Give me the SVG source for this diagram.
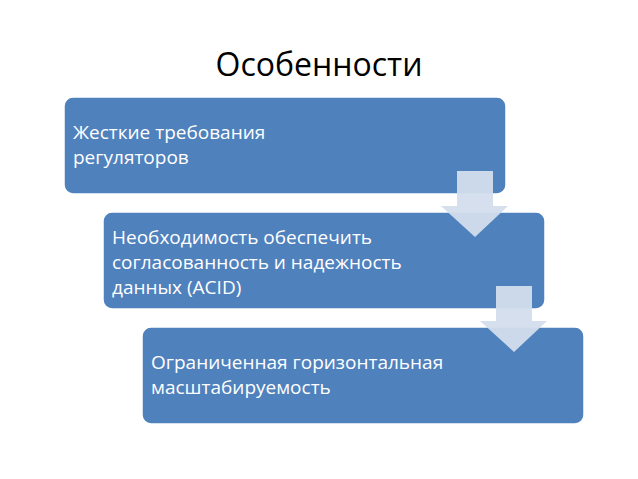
<svg xmlns="http://www.w3.org/2000/svg" width="638" height="479" viewBox="0 0 638 479">
<style>
.box{fill:#4F81BD;stroke:#fff;stroke-width:1.5}
.t{font-family:"Open Sans","Liberation Sans",sans-serif;font-size:19px;fill:#fff}
.arr{fill:#D3DDEC;fill-opacity:0.95}
</style>
<rect width="638" height="479" fill="#fff"/>
<text x="319" y="76" text-anchor="middle" font-family="Open Sans, Liberation Sans, sans-serif" font-size="32" fill="#000">Особенности</text>
<g id="n1"><rect class="box" x="64" y="97" width="442" height="97" rx="9"/>
<text class="t" x="73" y="139">Жесткие требования</text><text class="t" x="73" y="164">регуляторов</text></g>
<g id="n2"><rect class="box" x="103" y="212" width="442" height="97" rx="9"/>
<text class="t" x="112" y="244">Необходимость обеспечить</text><text class="t" x="112" y="269">согласованность и надежность</text><text class="t" x="112" y="294">данных (ACID)</text></g>
<g id="n3"><rect class="box" x="142" y="327" width="442" height="97" rx="9"/>
<text class="t" x="151" y="369">Ограниченная горизонтальная</text><text class="t" x="151" y="394">масштабируемость</text></g>
<g id="connectors">
<path class="arr" d="M457 171H493V206H508L475 237L441 206H457Z"/>
<path class="arr" d="M496 286H532V321H547L514 352L480 321H496Z"/>
</g>
</svg>
